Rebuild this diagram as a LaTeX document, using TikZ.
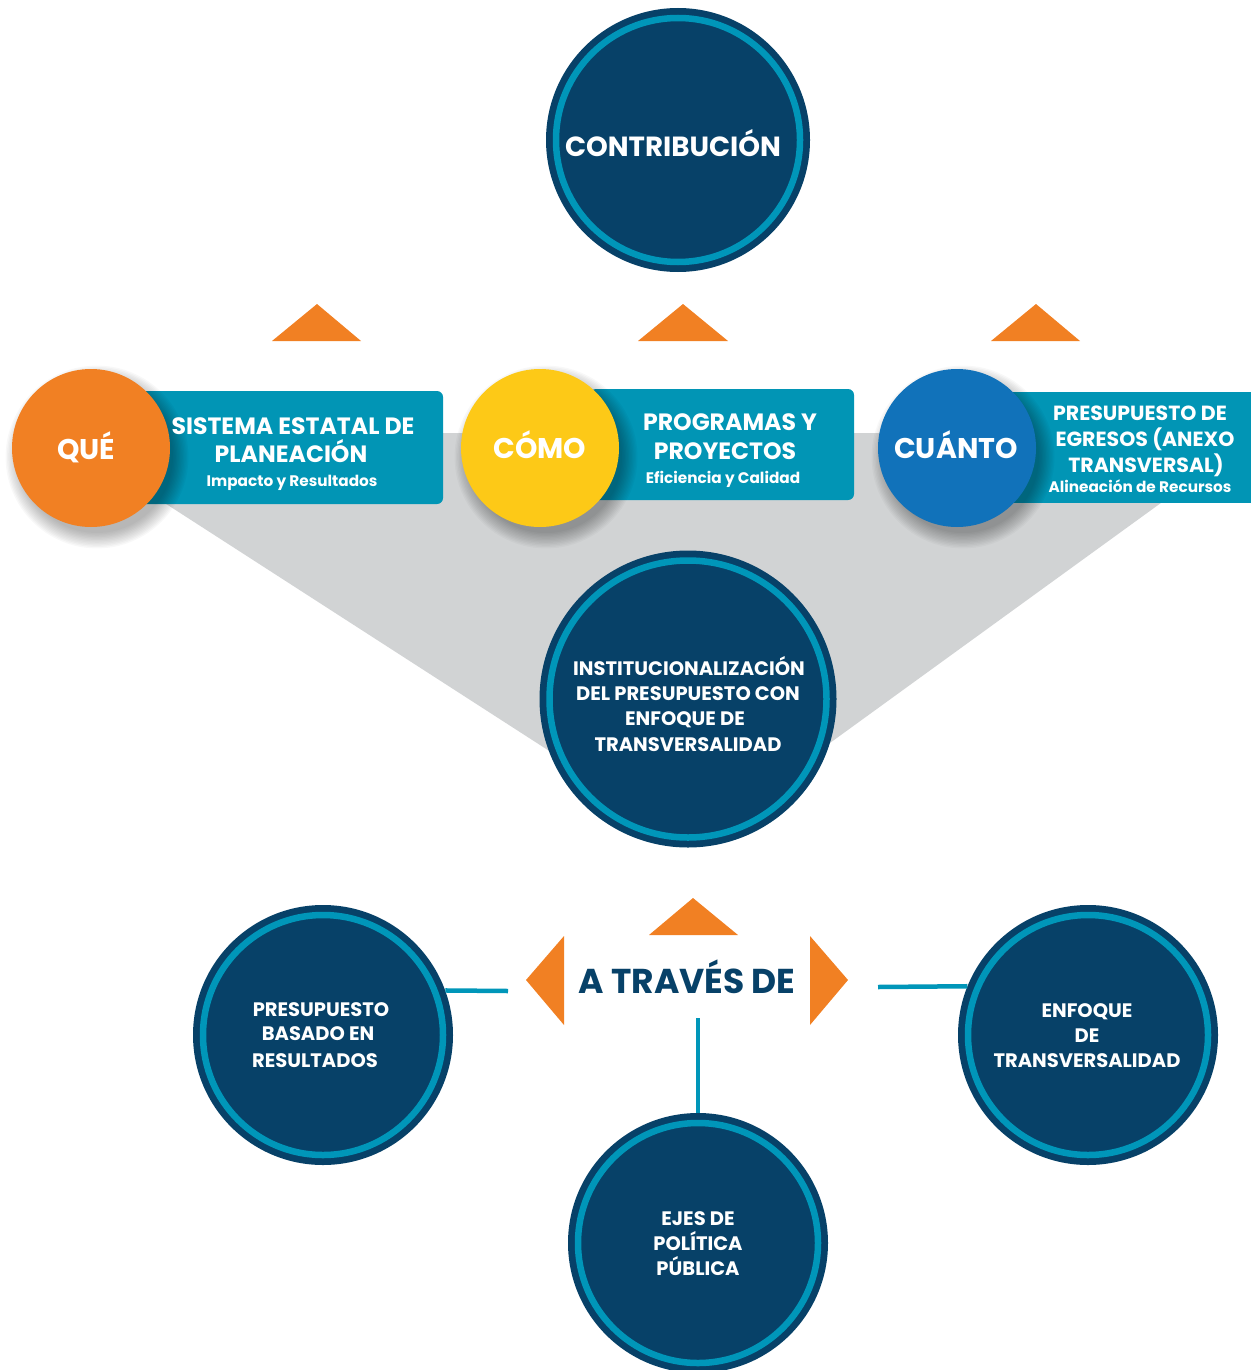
\documentclass[tikz,border=0pt]{standalone}
\usepackage{fontspec}
\setmainfont{Poppins}
\definecolor{navy}{RGB}{7,65,104}
\definecolor{ringteal}{RGB}{0,150,185}
\definecolor{boxteal}{RGB}{1,149,181}
\definecolor{orng}{RGB}{241,128,35}
\definecolor{yllw}{RGB}{253,201,23}
\definecolor{blu}{RGB}{17,114,186}
\definecolor{gry}{RGB}{209,211,212}
\newcommand{\softshadow}[3]{%
  \foreach \k in {0,...,11}{\fill[black,opacity=0.028] (#1,#2) circle[radius={(#3+\k*1.4)*1pt}];}}
\tikzset{
  navycirc/.style={circle, fill=navy, inner sep=0pt, minimum size=#1,
    path picture={\draw[ringteal, line width=6.5pt] (path picture bounding box.center) circle[radius={#1/2-10pt}];}},
  colcirc/.style={circle, fill=#1, inner sep=0pt, minimum size=158pt},
  lbl/.style={anchor=base, inner sep=0pt, text=white, font=\bfseries},
  tbox/.style={fill=boxteal, rounded corners=6pt},
  tri/.style={fill=orng},
  conn/.style={draw=ringteal, line width=4.5pt},
  big/.style={font=\bfseries\fontsize{28.5}{32}\selectfont},
  bigc/.style={font=\bfseries\fontsize{27.7}{32}\selectfont},
  ttl/.style={font=\bfseries\fontsize{23.6}{28}\selectfont},
  ttlb/.style={font=\bfseries\fontsize{20.5}{24}\selectfont},
  sub/.style={font=\bfseries\fontsize{15.3}{18}\selectfont},
  circtxt/.style={font=\bfseries\fontsize{19.5}{23}\selectfont}
}
\begin{document}
\begin{tikzpicture}[x=1pt,y=-1pt]
\useasboundingbox (0,0) rectangle (1251,1370);
% gray funnel
\fill[gry] (100,433) -- (1240,433) -- (1165,500) -- (692,843) -- (160,500) -- cycle;
% teal boxes
\fill[tbox] (140,391) rectangle (443,504);
\fill[tbox] (590,389) rectangle (854,500);
\fill[boxteal] (1010,392) rectangle (1251,503);
% orange triangles
\fill[tri] (272,341) -- (317,304) -- (361,341) -- cycle;
\fill[tri] (638,341) -- (683,304) -- (728,341) -- cycle;
\fill[tri] (991,341) -- (1036,304) -- (1080,341) -- cycle;
\fill[tri] (649,935) -- (693,898) -- (738,935) -- cycle;
\fill[tri] (564,936) -- (526,980) -- (564,1025) -- cycle;
\fill[tri] (810,936) -- (848,980) -- (810,1025) -- cycle;
% shadows
\softshadow{97}{457}{76}
\softshadow{546}{457}{76}
\softshadow{963}{457}{76}
% circles
\node[navycirc=264pt] (contrib) at (678,140) {};
\node[colcirc=orng] (que) at (91,448) {};
\node[colcirc=yllw] (como) at (540,448) {};
\node[colcirc=blu] (cuanto) at (957,448) {};
\node[navycirc=297pt] (inst) at (688,699) {};
\node[navycirc=260pt] (pbr) at (323,1035) {};
\node[navycirc=260pt] (ent) at (1088,1035) {};
\node[navycirc=260pt] (ejes) at (698,1243) {};
% connectors
\coordinate (tl) at (508,991);
\coordinate (tr) at (878,987);
\coordinate (tb) at (698,1018);
\draw[conn] (pbr.20) -- (tl);
\draw[conn] (tr) -- (ent.158);
\draw[conn] (tb) -- (ejes.north);
% texts
\node[lbl, bigc] (t-contrib) at (673,157) {CONTRIBUCIÓN};
\node[lbl, big] (t-que) at (86,459) {QUÉ};
\node[lbl, big] (t-como) at (540,458) {CÓMO};
\node[lbl, big] (t-cuanto) at (956,458) {CUÁNTO};
\node[lbl, ttl] (b1a) at (293,434) {SISTEMA ESTATAL DE};
\node[lbl, ttl] (b1b) at (291,462) {PLANEACIÓN};
\node[lbl, sub] (b1c) at (292,486) {Impacto y Resultados};
\node[lbl, ttl] (b2a) at (730,430) {PROGRAMAS Y};
\node[lbl, ttl] (b2b) at (725,459) {PROYECTOS};
\node[lbl, sub] (b2c) at (723,483) {Eficiencia y Calidad};
\node[lbl, ttlb] (b3a) at (1140,420) {PRESUPUESTO DE};
\node[lbl, ttlb] (b3b) at (1145,446) {EGRESOS (ANEXO};
\node[lbl, ttlb] (b3c) at (1146,472) {TRANSVERSAL)};
\node[lbl, sub] (b3d) at (1140,492) {Alineación de Recursos};
\node[lbl, circtxt] (i1) at (689,675) {INSTITUCIONALIZACIÓN};
\node[lbl, circtxt] (i2) at (688,700) {DEL PRESUPUESTO CON};
\node[lbl, circtxt] (i3) at (685,725) {ENFOQUE DE};
\node[lbl, circtxt] (i4) at (688,751) {TRANSVERSALIDAD};
\node[lbl, circtxt] (p1) at (321,1016) {PRESUPUESTO};
\node[lbl, circtxt] (p2) at (318,1040) {BASADO EN};
\node[lbl, circtxt] (p3) at (315,1067) {RESULTADOS};
\node[lbl, circtxt] (e1) at (1087,1017) {ENFOQUE};
\node[lbl, circtxt] (e2) at (1087,1042) {DE};
\node[lbl, circtxt] (e3) at (1087,1067) {TRANSVERSALIDAD};
\node[lbl, circtxt] (j1) at (698,1225) {EJES DE};
\node[lbl, circtxt] (j2) at (698,1250) {POLÍTICA};
\node[lbl, circtxt] (j3) at (698,1275) {PÚBLICA};
\node[lbl, text=navy, font=\bfseries\fontsize{34.5}{40}\selectfont] (trav) at (687,993) {A TRAVÉS DE};
\end{tikzpicture}
\end{document}
